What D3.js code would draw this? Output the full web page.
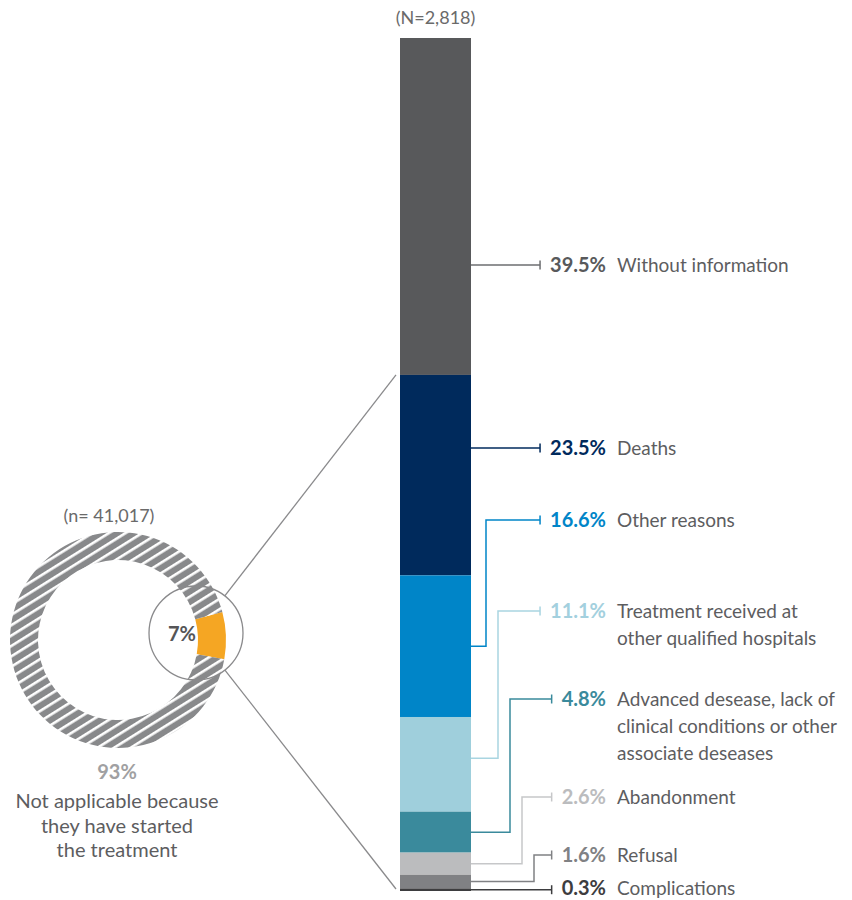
<!DOCTYPE html>
<html>
<head>
<meta charset="utf-8">
<script src="https://cdn.jsdelivr.net/npm/d3@7"></script>
<style>
  html, body { margin: 0; padding: 0; background: #fff; }
  svg { display: block; font-family: Lato, "Open Sans", sans-serif; }
</style>
</head>
<body>
<svg id="chart" width="852" height="900"></svg>
<script>
// ---- Data ----
const barTitle = "(N=2,818)";
const categories = [
  "Without information",
  "Deaths",
  "Other reasons",
  "Treatment received at|other qualified hospitals",
  "Advanced desease, lack of|clinical conditions or other|associate deseases",
  "Abandonment",
  "Refusal",
  "Complications"
];
const values = [39.5, 23.5, 16.6, 11.1, 4.8, 2.6, 1.6, 0.3];
const colors = ["#58595b", "#002a5c", "#0085c8", "#9fcfdc", "#3a8a9c", "#bbbcbe", "#808184", "#3d3d3f"];
const pctColors = ["#58595b", "#002a5c", "#0085c8", "#a3d0de", "#3a8a9c", "#bbbcbe", "#808184", "#3d3d3f"];
const lineColors = ["#6d6e70", "#002a5c", "#0085c8", "#a9d5e1", "#3a8a9c", "#c6c7c9", "#808184", "#3d3d3f"];

const donutTitle = "(n= 41,017)";
const donutCategories = ["Did not start treatment", "Not applicable because|they have started|the treatment"];
const donutValues = [7, 93];
const donutColors = ["#f5a623", "url(#hatch)"];

// ---- Layout ----
const svg = d3.select("#chart");
const barX = 400, barW = 71, barTop = 38, barBottom = 891;
const labelY = [265, 448, 520, 611, 699, 797, 855, 888];   // leader tick heights
const pctRight = 606, textLeft = 617, lineH = 27;

const y = d3.scaleLinear().domain([0, d3.sum(values)]).range([barTop, barBottom]);
const cum = d3.cumsum(values);
const segs = values.map((v, i) => ({ v, i, y0: i ? cum[i - 1] : 0, y1: cum[i] }));

// hatch pattern
const defs = svg.append("defs");
const pat = defs.append("pattern").attr("id", "hatch").attr("patternUnits", "userSpaceOnUse")
  .attr("width", 8.8).attr("height", 8.8).attr("patternTransform", "rotate(-32)");
pat.append("rect").attr("width", 8.8).attr("height", 8.8).attr("fill", "#88898b");
pat.append("rect").attr("y", 0).attr("width", 8.8).attr("height", 2.6).attr("fill", "#ffffff");

// bar title
svg.append("text").attr("x", barX + barW / 2).attr("y", 24).attr("text-anchor", "middle")
  .attr("font-size", 18).attr("fill", "#6a6a6a").text(barTitle);

// stacked bar
svg.append("g").selectAll("rect").data(segs).join("rect")
  .attr("x", barX).attr("width", barW)
  .attr("y", d => y(d.y0)).attr("height", d => y(d.y1) - y(d.y0))
  .attr("fill", d => colors[d.i]);

// labels & leaders
const lab = svg.append("g");
segs.forEach(d => {
  const i = d.i, ly = labelY[i];
  const pct = lab.append("text").attr("x", pctRight).attr("y", ly + 7).attr("text-anchor", "end")
    .attr("font-size", 20).attr("font-weight", 700).attr("fill", pctColors[i])
    .text(d3.format(".1f")(d.v) + "%");
  const pw = pct.node().getComputedTextLength();
  const tickX = pctRight - pw - 10;
  const lines = categories[i].split("|");
  const t = lab.append("text").attr("x", textLeft).attr("y", ly + 7).attr("font-size", 19).attr("fill", "#5d5d5f");
  lines.forEach((s, k) => t.append("tspan").attr("x", textLeft).attr("dy", k ? lineH : 0).text(s));

  let pts;
  if (i < 2) {
    pts = [[barX + barW, ly], [tickX, ly]];
  } else {
    const by = (y(d.y0) + y(d.y1)) / 2 - (i === 3 ? 6 : 0);
    const ex = barX + barW + 15 + 12 * (i - 2);
    pts = i === values.length - 1 ? [[barX + barW, by], [tickX, by]]
      : [[barX + barW, by], [ex, by], [ex, ly], [tickX, ly]];
  }
  const ty = pts[pts.length - 1][1];
  lab.append("path").attr("d", d3.line()(pts)).attr("fill", "none")
    .attr("stroke", lineColors[i]).attr("stroke-width", 1.5);
  lab.append("line").attr("x1", tickX).attr("x2", tickX).attr("y1", ty - 4.5).attr("y2", ty + 4.5)
    .attr("stroke", lineColors[i]).attr("stroke-width", 1.5);
});

// donut
const cx = 118, cy = 640, rOut = 108, rIn = 80;
const pie = d3.pie().sort(null).value(d => d)
  .startAngle(75 * Math.PI / 180).endAngle(75 * Math.PI / 180 + 2 * Math.PI);
const arc = d3.arc().innerRadius(rIn).outerRadius(rOut);
const dg = svg.append("g").attr("transform", `translate(${cx},${cy})`);
dg.selectAll("path").data(pie(donutValues)).join("path")
  .attr("d", arc).attr("fill", (d, i) => donutColors[i]);

svg.append("text").attr("x", 109).attr("y", 522).attr("text-anchor", "middle")
  .attr("font-size", 18).attr("fill", "#6a6a6a").text(donutTitle);

// magnifier circle and connectors
const mx = 196, my = 633, mr = 47;
svg.append("circle").attr("cx", mx).attr("cy", my).attr("r", mr)
  .attr("fill", "none").attr("stroke", "#8a8a8c").attr("stroke-width", 1.3);
[[barX - 4, y(values[0])], [barX - 4, barBottom - 2]].forEach(([tx, ty]) => {
  const dx = tx - mx, dy = ty - my, L = Math.hypot(dx, dy);
  svg.append("line").attr("x1", mx + dx / L * mr).attr("y1", my + dy / L * mr)
    .attr("x2", tx).attr("y2", ty).attr("stroke", "#8a8a8c").attr("stroke-width", 1.3);
});
svg.append("text").attr("x", 182).attr("y", 641).attr("text-anchor", "middle")
  .attr("font-size", 20).attr("font-weight", 700).attr("fill", "#555557").text(donutValues[0] + "%");

// donut 93% label
svg.append("text").attr("x", 117).attr("y", 779).attr("text-anchor", "middle")
  .attr("font-size", 20).attr("font-weight", 700).attr("fill", "#a0a0a2").text(donutValues[1] + "%");
const nt = svg.append("text").attr("x", 117).attr("y", 808).attr("text-anchor", "middle")
  .attr("font-size", 20).attr("fill", "#5d5d5f");
donutCategories[1].split("|").forEach((s, k) =>
  nt.append("tspan").attr("x", 117).attr("dy", k ? 24.5 : 0).text(s));
</script>
</body>
</html>
